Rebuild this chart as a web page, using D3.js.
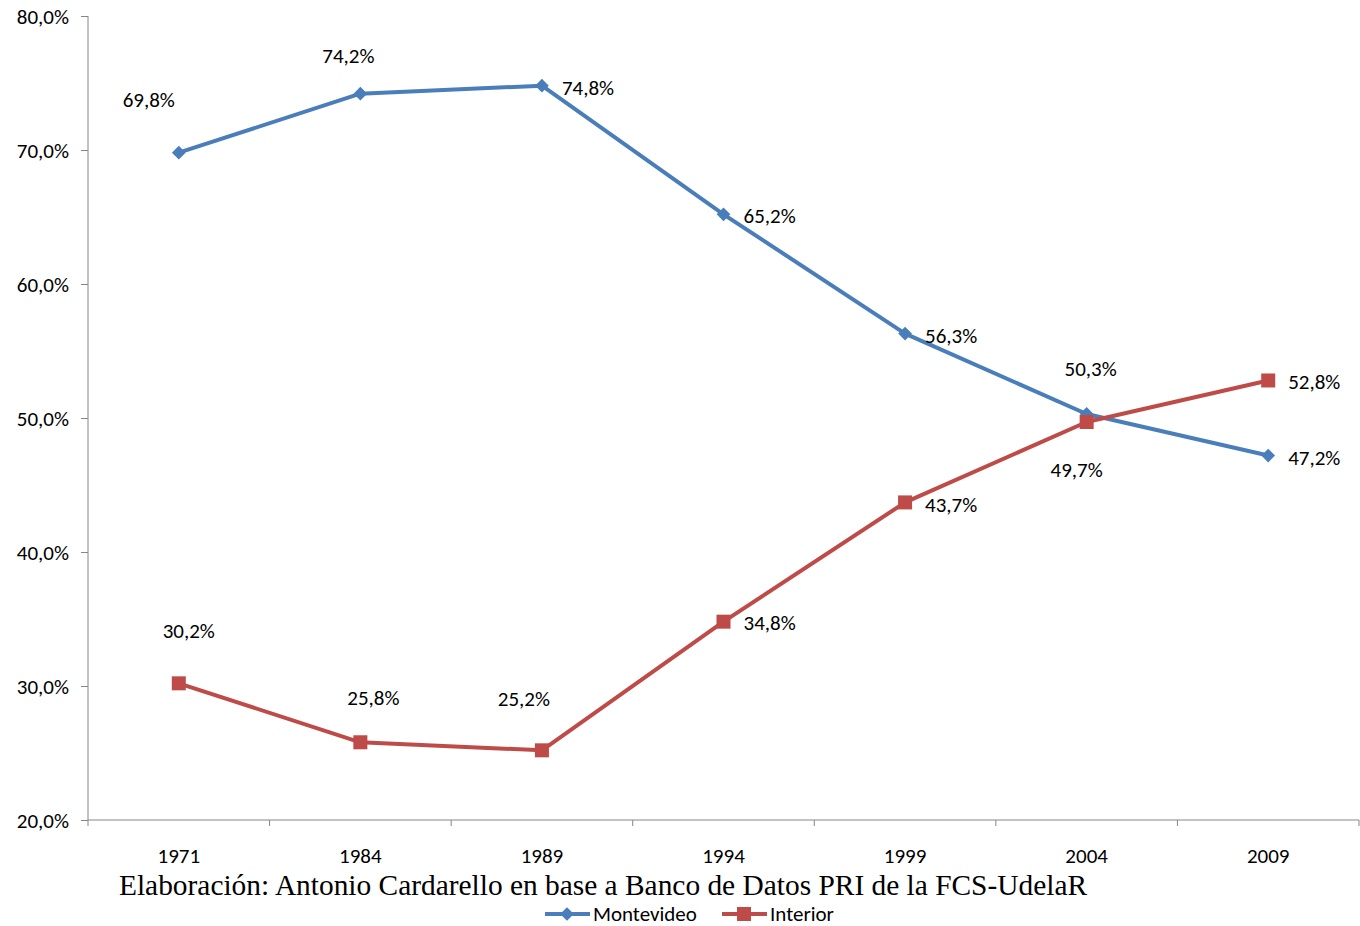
<!DOCTYPE html>
<html><head><meta charset="utf-8">
<script src="https://cdn.jsdelivr.net/npm/d3@7/dist/d3.min.js"></script>
<style>body{margin:0;background:#fff}</style>
</head><body>
<svg id="c" width="1360" height="926"></svg>
<script>
const years = ["1971","1984","1989","1994","1999","2004","2009"];
const montevideo = [69.8, 74.2, 74.8, 65.2, 56.3, 50.3, 47.2];
const interior = [30.2, 25.8, 25.2, 34.8, 43.7, 49.7, 52.8];
const yTicks = [20,30,40,50,60,70,80];
const seriesNames = ["Montevideo","Interior"];
const caption = "Elaboración: Antonio Cardarello en base a Banco de Datos PRI de la FCS-UdelaR";
// label placement offsets (dx, dy, anchor)
const mvLabelPos = [[-30,-53,"middle"],[-12,-38,"middle"],[20,2,"start"],[20,1,"start"],[20,2,"start"],[4,-45,"middle"],[20,2,"start"]];
const inLabelPos = [[10,-53,"middle"],[13,-45,"middle"],[-18,-52,"middle"],[20,1,"start"],[20,2,"start"],[-10,48,"middle"],[20,1,"start"]];

const fmt = v => v.toFixed(1).replace(".", ",") + "%";
const svg = d3.select("#c");
const font = "Carlito, Calibri, 'Open Sans', sans-serif";
const fs = 21;
const x = d3.scaleBand().domain(years).range([88, 1359]);
const y = d3.scaleLinear().domain([20, 80]).range([820, 16]);
const blue = "#4A7EBB", red = "#BE4B48";

// axes
const yAx = svg.append("g").attr("transform","translate(88,0)")
  .call(d3.axisLeft(y).tickValues(yTicks).tickSize(7).tickPadding(12).tickFormat(d => d.toFixed(1).replace(".",",")+"%"));
yAx.select(".domain").attr("stroke","#868686").attr("d","M0,16V820");
yAx.selectAll(".tick line").attr("stroke","#868686");
yAx.selectAll("text").attr("font-family",font).attr("font-size",fs).attr("fill","#000").attr("dy","0.35em");

const xAx = svg.append("g").attr("transform","translate(0,820)")
  .call(d3.axisBottom(x).tickSize(0).tickPadding(43));
xAx.select(".domain").attr("stroke","#868686").attr("d","M88,0H1359");
xAx.selectAll("text").attr("font-family",font).attr("font-size",fs).attr("fill","#000").attr("dy","0");
const bounds = years.map(d => x(d)).concat([x.range()[1]]);
xAx.selectAll(".bt").data(bounds).enter().append("line").attr("class","bt")
  .attr("x1",d=>d).attr("x2",d=>d).attr("y1",0).attr("y2",6).attr("stroke","#868686");

const cx = d => x(d) + x.bandwidth()/2;
const line = d3.line().x((d,i)=>cx(years[i])).y(d=>y(d));

function drawSeries(vals, color, shape, size, labels) {
  svg.append("path").datum(vals).attr("d",line).attr("fill","none").attr("stroke",color).attr("stroke-width",4).attr("stroke-linejoin","round");
  svg.selectAll(null).data(vals).enter().append("path")
    .attr("d", d3.symbol().type(shape).size(size))
    .attr("transform",(d,i)=>`translate(${cx(years[i])},${y(d)})`)
    .attr("fill",color);
  svg.selectAll(null).data(vals).enter().append("text")
    .attr("x",(d,i)=>cx(years[i])+labels[i][0])
    .attr("y",(d,i)=>y(d)+labels[i][1])
    .attr("dy","0.35em")
    .attr("text-anchor",(d,i)=>labels[i][2])
    .attr("font-family",font).attr("font-size",fs).attr("fill","#000")
    .text(d=>fmt(d));
}
drawSeries(montevideo, blue, d3.symbolDiamond2, 120, mvLabelPos);
drawSeries(interior, red, d3.symbolSquare2, 250, inLabelPos);

svg.append("text").attr("x",119).attr("y",895).attr("font-family","'Liberation Serif','Times New Roman',serif")
  .attr("font-size",29.4).attr("fill","#000").text(caption);

// legend
const leg = [{name:seriesNames[0],color:blue,shape:d3.symbolDiamond2,size:120,x:545},
             {name:seriesNames[1],color:red,shape:d3.symbolSquare2,size:250,x:722}];
const lg = svg.selectAll(".lg").data(leg).enter().append("g").attr("transform",d=>`translate(${d.x},914)`);
lg.append("line").attr("x1",0).attr("x2",45).attr("stroke",d=>d.color).attr("stroke-width",4);
lg.append("path").attr("d",d=>d3.symbol().type(d.shape).size(d.size)()).attr("transform","translate(22,0)").attr("fill",d=>d.color);
lg.append("text").attr("x",48).attr("dy","0.35em").attr("font-family",font).attr("font-size",fs).attr("fill","#000").text(d=>d.name);
</script>
</body></html>
